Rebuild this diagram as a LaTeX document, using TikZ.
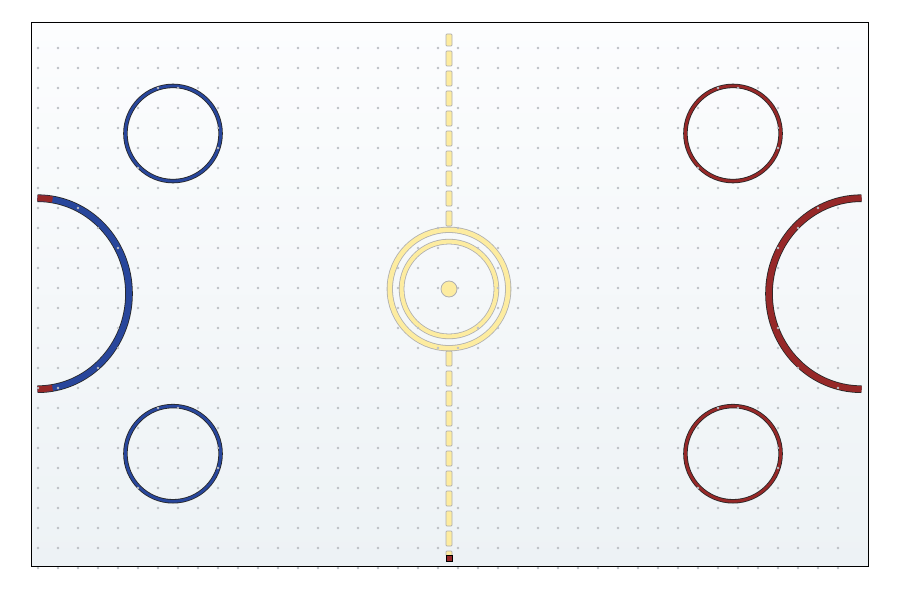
\documentclass[tikz,border=0pt]{standalone}
\begin{document}
\begin{tikzpicture}[x=1pt,y=-1pt]
\definecolor{bgtop}{RGB}{252,253,254}
\definecolor{bgbot}{RGB}{237,242,245}
\definecolor{dotc}{RGB}{188,191,196}
\definecolor{rinkblue}{RGB}{40,70,155}
\definecolor{rinkred}{RGB}{150,40,40}
\definecolor{lineyel}{RGB}{253,236,160}
\definecolor{lineedge}{RGB}{175,175,175}
\tikzset{
  dashbox/.style={fill=lineyel, draw=lineedge, line width=0.7pt, rounded corners=0.8pt},
  ringedge/.style={draw=black!85, line width=4.4pt},
  arcedge/.style={draw=black!85, line width=7.6pt},
  arcfill/.style={line width=6pt},
}
\useasboundingbox (0,0) rectangle (901,591);
% background
\shade[top color=bgtop, bottom color=bgbot] (31,22) rectangle (868,566);
% centre line dashes
\draw[dashbox] (446,34) rectangle (452,46);
\foreach \y in {51,71,...,211,351,371,...,531}
  \draw[dashbox] (446,\y) rectangle (452,\y+15);
\draw[dashbox] (446,551) rectangle (452,556);
\draw[fill=rinkred, draw=black, line width=0.6pt] (446,555) rectangle (452,561);
% centre circle
\draw[lineedge, line width=6.2pt] (449,289) circle (59.2);
\draw[lineyel, line width=4.6pt] (449,289) circle (59.2);
\draw[lineedge, line width=5.6pt] (449,289) circle (47.4);
\draw[lineyel, line width=4pt] (449,289) circle (47.4);
\draw[fill=lineyel, draw=lineedge, line width=0.8pt] (449,289) circle (8);
% faceoff circles
\foreach \cx/\cy/\col in {173/133.5/rinkblue, 173/453.7/rinkblue, 733/133.5/rinkred, 733/453.7/rinkred}{
  \draw[ringedge] (\cx,\cy) circle (47.6);
  \draw[\col, line width=2.8pt] (\cx,\cy) circle (47.6);
}
% left arc
\draw[arcedge] (37.5,198.2) arc[start angle=-90, end angle=90, x radius=91.5, y radius=95.5];
\draw[arcfill, rinkblue] (37.5,198.2) arc[start angle=-90, end angle=90, x radius=91.5, y radius=95.5];
\draw[arcfill, rinkred] (37.5,198.2) arc[start angle=-90, end angle=-80.6, x radius=91.5, y radius=95.5];
\draw[arcfill, rinkred] (37.5,389.2) arc[start angle=90, end angle=80.6, x radius=91.5, y radius=95.5];
% right arc
\draw[arcedge] (861.5,198.2) arc[start angle=270, end angle=90, x radius=92.5, y radius=95.5];
\draw[arcfill, rinkred] (861.5,198.2) arc[start angle=270, end angle=90, x radius=92.5, y radius=95.5];
% grid dots
\foreach \x in {38,58,...,838}
  \foreach \y in {48,68,...,568}
    \fill[dotc] (\x,\y) circle (1.3);
% frame
\draw[black, line width=0.9pt] (31,22) rectangle (868,566);
\end{tikzpicture}
\end{document}
